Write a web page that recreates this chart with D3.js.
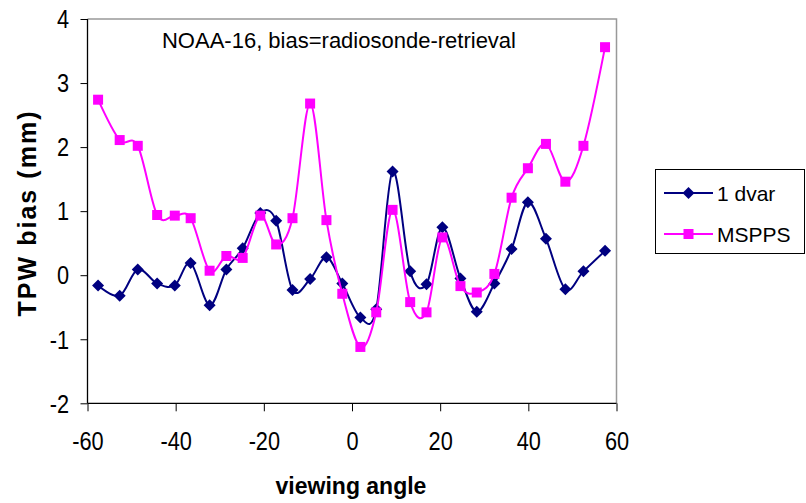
<!DOCTYPE html>
<html>
<head>
<meta charset="utf-8">
<script src="https://cdn.jsdelivr.net/npm/d3@7"></script>
<style>
  html, body { margin: 0; padding: 0; background: #fff; }
  svg text { font-family: Arial, "Liberation Sans", sans-serif; fill: #000; }
</style>
</head>
<body>
<svg id="chart" width="806" height="503"></svg>
<script>
// Viewing angle (degrees) of each scan position
const angles = [-57.6, -52.7, -48.6, -44.2, -40.2, -36.6, -32.3, -28.5, -24.8, -20.8,
                -17.2, -13.5, -9.5, -5.8, -2.2, 1.9, 5.5, 9.2, 13.2, 16.9,
                20.5, 24.6, 28.3, 32.3, 36.2, 39.9, 44.0, 48.4, 52.5, 57.4];

// TPW bias (mm), radiosonde minus retrieval
const dvar1 = [-0.16, -0.32, 0.09, -0.13, -0.16, 0.19, -0.47, 0.09, 0.42, 0.97,
               0.85, -0.23, -0.06, 0.28, -0.13, -0.66, -0.53, 1.62, 0.06, -0.14,
               0.75, -0.05, -0.57, -0.13, 0.41, 1.14, 0.57, -0.22, 0.06, 0.38];
const mspps = [2.74, 2.11, 2.02, 0.94, 0.93, 0.89, 0.07, 0.30, 0.27, 0.93,
               0.48, 0.89, 2.68, 0.86, -0.29, -1.12, -0.58, 1.02, -0.42, -0.58,
               0.59, -0.17, -0.27, 0.02, 1.21, 1.67, 2.05, 1.46, 2.02, 3.56];

const xTicks = [-60, -40, -20, 0, 20, 40, 60];
const yTicks = [-2, -1, 0, 1, 2, 3, 4];
const seriesNames = ["1 dvar", "MSPPS"];
const seriesColors = ["#000080", "#FF00FF"];
const chartTitle = "NOAA-16, bias=radiosonde-retrieval";

const svg = d3.select("#chart");

const x = d3.scaleLinear().domain([-60, 60]).range([87.5, 616.5]);
const y = d3.scaleLinear().domain([-2, 4]).range([403.3, 19]);

// plain hyphen for negative tick labels
const fmt = d => String(d);
const squeeze = 0.87;   // tick labels are set slightly condensed

// Plot area border (top and right in grey)
svg.append("path")
  .attr("d", `M${x(-60)},${y(4)}H${x(60)}V${y(-2)}`)
  .attr("fill", "none").attr("stroke", "#999").attr("stroke-width", 1.5);

// Axes
const xAxis = d3.axisBottom(x).tickValues(xTicks).tickSize(8).tickPadding(21)
  .tickFormat(fmt);
const gx = svg.append("g").attr("transform", `translate(0,${y(-2)})`).call(xAxis);
gx.select(".domain").attr("stroke", "#000").attr("stroke-width", 1.3)
  .attr("d", `M${x(-60)},0H${x(60)}`);
gx.selectAll(".tick line").attr("stroke", "#000");
gx.selectAll(".tick text").attr("font-size", 25).attr("dy", "0.71em")
  .attr("transform", `scale(${squeeze},1)`)
  .attr("font-family", "Arial, 'Liberation Sans', sans-serif");

const yAxis = d3.axisLeft(y).tickValues(yTicks).tickSize(7).tickPadding(11)
  .tickFormat(fmt);
const gy = svg.append("g").attr("transform", `translate(${x(-60)},0)`).call(yAxis);
gy.select(".domain").attr("stroke", "#000").attr("stroke-width", 1.3)
  .attr("d", `M0,${y(-2)}V${y(4)}`);
gy.selectAll(".tick line").attr("stroke", "#000");
gy.selectAll(".tick text").attr("font-size", 25)
  .attr("x", -18.5 / squeeze)
  .attr("dy", "0.35em")
  .attr("transform", `scale(${squeeze},1)`)
  .attr("font-family", "Arial, 'Liberation Sans', sans-serif");

// Title inside the plot
svg.append("text")
  .attr("x", 339).attr("y", 48)
  .attr("text-anchor", "middle")
  .attr("font-size", 22)
  .text(chartTitle);

// Axis titles
svg.append("text")
  .attr("x", 351).attr("y", 494)
  .attr("text-anchor", "middle")
  .attr("font-size", 23).attr("font-weight", "bold")
  .text("viewing angle");

svg.append("text")
  .attr("transform", "translate(36,214) rotate(-90)")
  .attr("text-anchor", "middle")
  .attr("font-size", 25).attr("font-weight", "bold")
  .attr("textLength", 205).attr("lengthAdjust", "spacing")
  .text("TPW bias (mm)");

// Series
const line = d3.line()
  .x(d => x(d[0]))
  .y(d => y(d[1]))
  .curve(d3.curveCardinal.tension(0));

const series = [dvar1, mspps].map(vals => angles.map((a, i) => [a, vals[i]]));
const diamond = s => `M0,${-s}L${s},0L0,${s}L${-s},0Z`;

series.forEach((pts, k) => {
  const g = svg.append("g");
  g.append("path")
    .datum(pts)
    .attr("d", line)
    .attr("fill", "none")
    .attr("stroke", seriesColors[k])
    .attr("stroke-width", 2);
  if (k === 0) {
    g.selectAll("path.m").data(pts).join("path")
      .attr("class", "m")
      .attr("transform", d => `translate(${x(d[0])},${y(d[1])})`)
      .attr("d", diamond(6))
      .attr("fill", seriesColors[k]);
  } else {
    g.selectAll("rect.m").data(pts).join("rect")
      .attr("class", "m")
      .attr("x", d => x(d[0]) - 5).attr("y", d => y(d[1]) - 5)
      .attr("width", 10).attr("height", 10)
      .attr("fill", seriesColors[k]);
  }
});

// Legend
const lg = svg.append("g");
lg.append("rect")
  .attr("x", 655.5).attr("y", 169.5).attr("width", 149).attr("height", 84)
  .attr("fill", "#fff").attr("stroke", "#000").attr("stroke-width", 1);
const legendY = [193, 234];
seriesNames.forEach((name, k) => {
  lg.append("line")
    .attr("x1", 664).attr("x2", 713)
    .attr("y1", legendY[k]).attr("y2", legendY[k])
    .attr("stroke", seriesColors[k]).attr("stroke-width", 2);
  if (k === 0) {
    lg.append("path")
      .attr("transform", `translate(688.5,${legendY[k]})`)
      .attr("d", diamond(6)).attr("fill", seriesColors[k]);
  } else {
    lg.append("rect")
      .attr("x", 683.5).attr("y", legendY[k] - 5)
      .attr("width", 10).attr("height", 10).attr("fill", seriesColors[k]);
  }
  lg.append("text")
    .attr("x", 717).attr("y", legendY[k] + 7.5)
    .attr("font-size", 21)
    .text(name);
});
</script>
</body>
</html>
